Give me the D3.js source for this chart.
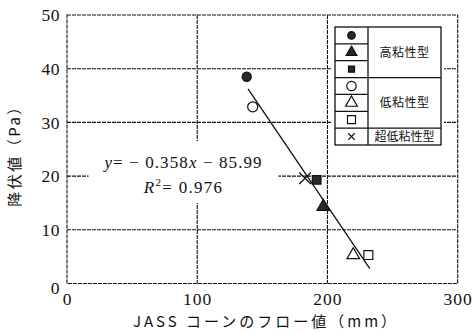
<!DOCTYPE html>
<html>
<head>
<meta charset="utf-8">
<script src="https://cdn.jsdelivr.net/npm/d3@7"></script>
<style>
  body { margin: 0; background: #fff; }
  text { font-family: 'Liberation Serif', 'Times New Roman', serif; fill: #111; }
  text.cjk { font-family: 'Noto Sans CJK JP', sans-serif; }
</style>
</head>
<body>
<div id="chart"></div>
<script>
// Series (JASS flow value in mm, yield value in Pa)
const highFilledCircle = [[138, 38.5]]
const highFilledTriangle = [[196.8, 14.3]]
const highFilledSquare = [[191.7, 19.3]]
const lowOpenCircle = [[142.6, 32.9]]
const lowOpenTriangle = [[219.8, 5.3]]
const lowOpenSquare = [[231.4, 5.3]]
const ultraLowCross = [[182.8, 19.6]]

// Regression y = -0.358x + 85.99, drawn over this flow range
const fitSlope = -0.358
const fitIntercept = 85.99
const fitRange = [139, 232.5]

const xTicks = [0, 100, 200, 300]
const yTicks = [0, 10, 20, 30, 40, 50]

const legendGroups = ['高粘性型', '低粘性型', '超低粘性型']

const serif = "'Liberation Serif', 'Times New Roman', serif"

const width = 473, height = 333
const margin = { top: 15, right: 15.3, bottom: 49.5, left: 67 }
const iw = width - margin.left - margin.right
const ih = height - margin.top - margin.bottom

const svg = d3.select('#chart').append('svg')
  .attr('width', width)
  .attr('height', height)

const g = svg.append('g')
  .attr('transform', `translate(${margin.left},${margin.top})`)

const x = d3.scaleLinear().domain([0, 300]).range([0, iw])
const y = d3.scaleLinear().domain([0, 50]).range([ih, 0])

// Grid lines
g.append('g')
  .selectAll('line')
  .data(yTicks.filter(d => d > 0 && d < 50))
  .join('line')
  .attr('x1', 0).attr('x2', iw)
  .attr('y1', d => y(d)).attr('y2', d => y(d))
  .attr('stroke', '#111')
  .attr('stroke-width', 1.1)
  .attr('stroke-dasharray', '4,1')

g.append('g')
  .selectAll('line')
  .data(xTicks.filter(d => d > 0 && d < 300))
  .join('line')
  .attr('x1', d => x(d)).attr('x2', d => x(d))
  .attr('y1', 0).attr('y2', ih)
  .attr('stroke', '#111')
  .attr('stroke-width', 1.1)
  .attr('stroke-dasharray', '4,1')

// Frame
g.append('rect')
  .attr('width', iw).attr('height', ih)
  .attr('fill', 'none')
  .attr('stroke', '#111')
  .attr('stroke-width', 1.1)
  .attr('stroke-dasharray', '4,1')

// Axes (labels only)
const xAxis = d3.axisBottom(x).tickValues(xTicks).tickSize(0).tickPadding(9)
g.append('g')
  .attr('transform', `translate(0,${ih})`)
  .call(xAxis)
  .attr('font-family', serif)
  .call(a => a.select('.domain').remove())
  .call(a => a.selectAll('.tick text')
    .attr('font-size', 17.5)
    .attr('letter-spacing', 1)
    .attr('fill', '#111'))

const yAxis = d3.axisLeft(y).tickValues(yTicks).tickSize(0).tickPadding(7)
g.append('g')
  .call(yAxis)
  .attr('font-family', serif)
  .call(a => a.select('.domain').remove())
  .call(a => a.selectAll('.tick text')
    .attr('font-size', 17.5)
    .attr('letter-spacing', 0.5)
    .attr('fill', '#111'))
  .call(a => a.selectAll('.tick').filter(d => d === 0).select('text').attr('dy', '0.55em'))

// Regression line
const fitLine = d3.line()
  .x(d => x(d))
  .y(d => y(fitSlope * d + fitIntercept))
g.append('path')
  .datum(fitRange)
  .attr('fill', 'none')
  .attr('stroke', '#111')
  .attr('stroke-width', 1.3)
  .attr('d', fitLine)

// Markers
const dark = '#2a2a2a'
const sym = (type, size) => d3.symbol().type(type).size(size)

function addPoints(data, type, size, filled) {
  g.append('g')
    .selectAll('path')
    .data(data)
    .join('path')
    .attr('transform', d => `translate(${x(d[0])},${y(d[1])})`)
    .attr('d', sym(type, size))
    .attr('fill', filled ? dark : '#fff')
    .attr('stroke', '#111')
    .attr('stroke-width', 1.2)
}

addPoints(lowOpenCircle, d3.symbolCircle, 80, false)
addPoints(highFilledCircle, d3.symbolCircle, 65, true)
addPoints(highFilledSquare, d3.symbolSquare, 75, true)
addPoints(highFilledTriangle, d3.symbolTriangle, 70, true)
addPoints(lowOpenTriangle, d3.symbolTriangle, 70, false)
addPoints(lowOpenSquare, d3.symbolSquare, 80, false)
g.append('g')
  .selectAll('path')
  .data(ultraLowCross)
  .join('path')
  .attr('transform', d => `translate(${x(d[0])},${y(d[1])})`)
  .attr('d', sym(d3.symbolTimes, 90))
  .attr('fill', 'none')
  .attr('stroke', '#111')
  .attr('stroke-width', 1.3)

// Equation label with white background
const eq = g.append('g')
  .attr('transform', `translate(${x(89.5)},0)`)
eq.append('rect')
  .attr('x', -95).attr('y', y(26.5))
  .attr('width', 190).attr('height', y(15) - y(26.5))
  .attr('fill', '#fff')
const eq1 = eq.append('text')
  .attr('y', y(21.6))
  .attr('text-anchor', 'middle')
  .attr('font-size', 17)
  .attr('letter-spacing', 1.1)
eq1.append('tspan').attr('font-style', 'italic').text('y')
eq1.append('tspan').text('= − 0.358')
eq1.append('tspan').attr('font-style', 'italic').text('x')
eq1.append('tspan').text(' − 85.99')
const eq2 = eq.append('text')
  .attr('y', y(16.8))
  .attr('text-anchor', 'middle')
  .attr('font-size', 17)
  .attr('letter-spacing', 1.3)
eq2.append('tspan').attr('font-style', 'italic').text('R')
eq2.append('tspan').attr('font-size', 11).attr('dy', -7).text('2')
eq2.append('tspan').attr('dy', 7).text('= 0.976')

// Legend
const lx = 268, ly = 12, lw = 106, lh = 118, lcw = 33
const rowH = lh / 7
const legend = g.append('g').attr('transform', `translate(${lx},${ly})`)
legend.append('rect')
  .attr('x', -3).attr('y', -3)
  .attr('width', lw + 6).attr('height', lh + 6)
  .attr('fill', '#fff')
legend.append('rect')
  .attr('width', lw).attr('height', lh)
  .attr('fill', '#fff')
  .attr('stroke', '#111')
  .attr('stroke-width', 1.3)
legend.append('line')
  .attr('x1', lcw).attr('x2', lcw)
  .attr('y1', 0).attr('y2', lh)
  .attr('stroke', '#111').attr('stroke-width', 1.3)
d3.range(1, 7).forEach(i => {
  const full = i === 3 || i === 6
  legend.append('line')
    .attr('x1', 0).attr('x2', full ? lw : lcw)
    .attr('y1', i * rowH).attr('y2', i * rowH)
    .attr('stroke', '#111').attr('stroke-width', 1.3)
})
const legendSymbols = [
  [d3.symbolCircle, 45, true],
  [d3.symbolTriangle, 50, true],
  [d3.symbolSquare, 36, true],
  [d3.symbolCircle, 70, false],
  [d3.symbolTriangle, 60, false],
  [d3.symbolSquare, 64, false],
  [d3.symbolTimes, 30, null]
]
legendSymbols.forEach(([type, size, filled], i) => {
  legend.append('path')
    .attr('transform', `translate(${lcw / 2},${(i + 0.5) * rowH})`)
    .attr('d', sym(type, size))
    .attr('fill', filled === null ? 'none' : (filled ? dark : '#fff'))
    .attr('stroke', '#111')
    .attr('stroke-width', 1.2)
})
const groupCenters = [1.5, 4.5, 6.5]
legendGroups.forEach((name, i) => {
  legend.append('text')
    .attr('class', 'cjk')
    .attr('x', lcw + (lw - lcw) / 2)
    .attr('y', groupCenters[i] * rowH)
    .attr('dy', '0.36em')
    .attr('text-anchor', 'middle')
    .attr('font-size', 12)
    .attr('letter-spacing', i === 2 ? 0 : 0.5)
    .text(name)
})

// Axis titles
svg.append('text')
  .attr('class', 'cjk')
  .attr('x', 266)
  .attr('y', 327)
  .attr('text-anchor', 'middle')
  .attr('font-size', 15)
  .attr('letter-spacing', 3)
  .text('JASS コーンのフロー値（mm）')

svg.append('text')
  .attr('class', 'cjk')
  .attr('transform', `translate(15,152) rotate(-90)`)
  .attr('dy', '0.35em')
  .attr('text-anchor', 'middle')
  .attr('font-size', 15)
  .attr('letter-spacing', 2.5)
  .text('降伏値（Pa）')
</script>
</body>
</html>
